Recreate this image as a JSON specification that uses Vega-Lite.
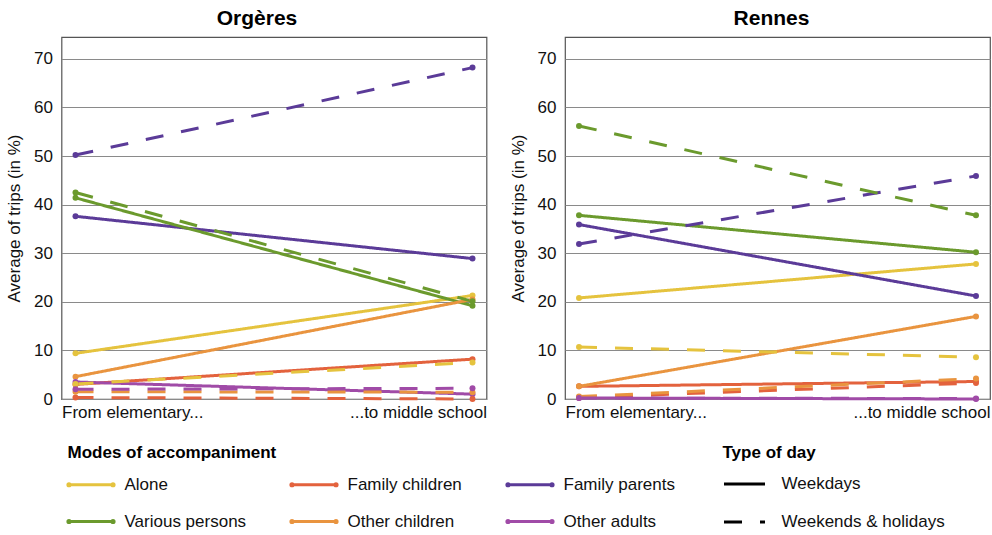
{
  "$schema": "https://vega.github.io/schema/vega-lite/v6.json",
  "padding": {"left": 4.5, "top": 7, "right": 0, "bottom": 0},
  "background": "white",
  "config": {
    "font": "Liberation Sans",
    "view": {"stroke": "#555", "strokeWidth": 1.2},
    "axis": {"labelFontSize": 17, "titleFontSize": 17, "labelColor": "#111", "titleColor": "#111", "titleFontWeight": "normal", "domain": false, "ticks": false},
    "legend": {"labelFontSize": 17, "titleFontSize": 17, "titleFontWeight": "bold", "titleColor": "#000", "labelColor": "#111", "titleLimit": 500, "labelLimit": 400}
  },
  "data": {"values": [
    {"city": "Orgères", "mode": "Alone", "day": "Weekdays", "stage": "From elementary...", "value": 9.4},
    {"city": "Orgères", "mode": "Alone", "day": "Weekdays", "stage": "...to middle school", "value": 21.3},
    {"city": "Orgères", "mode": "Family children", "day": "Weekdays", "stage": "From elementary...", "value": 3.0},
    {"city": "Orgères", "mode": "Family children", "day": "Weekdays", "stage": "...to middle school", "value": 8.2},
    {"city": "Orgères", "mode": "Family parents", "day": "Weekdays", "stage": "From elementary...", "value": 37.6},
    {"city": "Orgères", "mode": "Family parents", "day": "Weekdays", "stage": "...to middle school", "value": 28.9},
    {"city": "Orgères", "mode": "Various persons", "day": "Weekdays", "stage": "From elementary...", "value": 41.4},
    {"city": "Orgères", "mode": "Various persons", "day": "Weekdays", "stage": "...to middle school", "value": 19.2},
    {"city": "Orgères", "mode": "Other children", "day": "Weekdays", "stage": "From elementary...", "value": 4.6},
    {"city": "Orgères", "mode": "Other children", "day": "Weekdays", "stage": "...to middle school", "value": 20.5},
    {"city": "Orgères", "mode": "Other adults", "day": "Weekdays", "stage": "From elementary...", "value": 3.5},
    {"city": "Orgères", "mode": "Other adults", "day": "Weekdays", "stage": "...to middle school", "value": 1.0},
    {"city": "Orgères", "mode": "Alone", "day": "Weekends & holidays", "stage": "From elementary...", "value": 3.1},
    {"city": "Orgères", "mode": "Alone", "day": "Weekends & holidays", "stage": "...to middle school", "value": 7.5},
    {"city": "Orgères", "mode": "Family children", "day": "Weekends & holidays", "stage": "From elementary...", "value": 0.3},
    {"city": "Orgères", "mode": "Family children", "day": "Weekends & holidays", "stage": "...to middle school", "value": 0.0},
    {"city": "Orgères", "mode": "Family parents", "day": "Weekends & holidays", "stage": "From elementary...", "value": 50.2},
    {"city": "Orgères", "mode": "Family parents", "day": "Weekends & holidays", "stage": "...to middle school", "value": 68.2},
    {"city": "Orgères", "mode": "Various persons", "day": "Weekends & holidays", "stage": "From elementary...", "value": 42.5},
    {"city": "Orgères", "mode": "Various persons", "day": "Weekends & holidays", "stage": "...to middle school", "value": 20.1},
    {"city": "Orgères", "mode": "Other children", "day": "Weekends & holidays", "stage": "From elementary...", "value": 1.5},
    {"city": "Orgères", "mode": "Other children", "day": "Weekends & holidays", "stage": "...to middle school", "value": 1.4},
    {"city": "Orgères", "mode": "Other adults", "day": "Weekends & holidays", "stage": "From elementary...", "value": 2.0},
    {"city": "Orgères", "mode": "Other adults", "day": "Weekends & holidays", "stage": "...to middle school", "value": 2.2},
    {"city": "Rennes", "mode": "Alone", "day": "Weekdays", "stage": "From elementary...", "value": 20.8},
    {"city": "Rennes", "mode": "Alone", "day": "Weekdays", "stage": "...to middle school", "value": 27.8},
    {"city": "Rennes", "mode": "Family children", "day": "Weekdays", "stage": "From elementary...", "value": 2.6},
    {"city": "Rennes", "mode": "Family children", "day": "Weekdays", "stage": "...to middle school", "value": 3.6},
    {"city": "Rennes", "mode": "Family parents", "day": "Weekdays", "stage": "From elementary...", "value": 35.9},
    {"city": "Rennes", "mode": "Family parents", "day": "Weekdays", "stage": "...to middle school", "value": 21.2},
    {"city": "Rennes", "mode": "Various persons", "day": "Weekdays", "stage": "From elementary...", "value": 37.8},
    {"city": "Rennes", "mode": "Various persons", "day": "Weekdays", "stage": "...to middle school", "value": 30.2},
    {"city": "Rennes", "mode": "Other children", "day": "Weekdays", "stage": "From elementary...", "value": 2.6},
    {"city": "Rennes", "mode": "Other children", "day": "Weekdays", "stage": "...to middle school", "value": 17.0},
    {"city": "Rennes", "mode": "Other adults", "day": "Weekdays", "stage": "From elementary...", "value": 0.2},
    {"city": "Rennes", "mode": "Other adults", "day": "Weekdays", "stage": "...to middle school", "value": 0.0},
    {"city": "Rennes", "mode": "Alone", "day": "Weekends & holidays", "stage": "From elementary...", "value": 10.7},
    {"city": "Rennes", "mode": "Alone", "day": "Weekends & holidays", "stage": "...to middle school", "value": 8.6},
    {"city": "Rennes", "mode": "Family children", "day": "Weekends & holidays", "stage": "From elementary...", "value": 0.3},
    {"city": "Rennes", "mode": "Family children", "day": "Weekends & holidays", "stage": "...to middle school", "value": 3.3},
    {"city": "Rennes", "mode": "Family parents", "day": "Weekends & holidays", "stage": "From elementary...", "value": 31.9},
    {"city": "Rennes", "mode": "Family parents", "day": "Weekends & holidays", "stage": "...to middle school", "value": 45.9},
    {"city": "Rennes", "mode": "Various persons", "day": "Weekends & holidays", "stage": "From elementary...", "value": 56.2},
    {"city": "Rennes", "mode": "Various persons", "day": "Weekends & holidays", "stage": "...to middle school", "value": 37.8},
    {"city": "Rennes", "mode": "Other children", "day": "Weekends & holidays", "stage": "From elementary...", "value": 0.5},
    {"city": "Rennes", "mode": "Other children", "day": "Weekends & holidays", "stage": "...to middle school", "value": 4.2},
    {"city": "Rennes", "mode": "Other adults", "day": "Weekends & holidays", "stage": "From elementary...", "value": 0.2},
    {"city": "Rennes", "mode": "Other adults", "day": "Weekends & holidays", "stage": "...to middle school", "value": 0.1}
  ]},
  "spacing": 20.5,
  "hconcat": [
    {
      "title": {"text": "Orgères", "fontSize": 21, "fontWeight": "bold", "color": "#000", "frame": "group", "dx": -17, "offset": 8},
      "width": 425, "height": 362,
      "transform": [{"filter": "datum.city === 'Orgères'"}],
      "encoding": {
        "x": {"field": "stage", "type": "ordinal", "sort": ["From elementary...", "...to middle school"], "scale": {"type": "point", "padding": 0.0353},
          "axis": {"title": null, "labelAngle": 0, "labelPadding": 5, "labelAlign": {"expr": "datum.value === 'From elementary...' ? 'left' : 'right'"}, "labelOffset": {"expr": "datum.value === 'From elementary...' ? -14 : 14"}}},
        "y": {"field": "value", "type": "quantitative", "scale": {"domain": [0, 74.5], "nice": false}, "axis": {"title": "Average of trips (in %)", "values": [0, 10, 20, 30, 40, 50, 60, 70], "grid": true, "gridColor": "#8a8a8a", "gridWidth": 1.2, "labelPadding": 9, "titlePadding": 10}},
        "color": {"field": "mode", "type": "nominal", "sort": ["Alone", "Family children", "Family parents", "Various persons", "Other children", "Other adults"],
          "scale": {"domain": ["Alone", "Family children", "Family parents", "Various persons", "Other children", "Other adults"], "range": ["#E5C33E", "#E3623D", "#5B3B98", "#6B9A2D", "#E9943F", "#A04BA7"]},
          "legend": {"title": "Modes of accompaniment", "orient": "none", "direction": "horizontal", "legendX": 6, "legendY": 408, "columns": 3, "symbolType": "M-1,0H1M-1.05,0a0.05,0.05 0 1,0 0.1,0a0.05,0.05 0 1,0 -0.1,0M0.95,0a0.05,0.05 0 1,0 0.1,0a0.05,0.05 0 1,0 -0.1,0", "symbolSize": 1936, "symbolStrokeWidth": 3, "columnPadding": 38, "rowPadding": 5, "labelOffset": 10, "titlePadding": -1}},
        "detail": {"field": "day"}
      },
      "layer": [
        {"mark": {"type": "line", "strokeWidth": 3},
         "encoding": {"strokeDash": {"field": "day", "type": "nominal", "scale": {"domain": ["Weekdays", "Weekends & holidays"], "range": [[1, 0], [18, 18]]},
           "legend": {"title": "Type of day", "orient": "none", "direction": "vertical", "legendX": 661, "legendY": 408, "symbolType": "stroke", "symbolSize": 1681, "symbolStrokeColor": "#000", "symbolStrokeWidth": 3, "rowPadding": 8, "labelOffset": 15, "titlePadding": 0}}}},
        {"mark": {"type": "point", "filled": true, "size": 36, "opacity": 1}}
      ]
    },
    {
      "title": {"text": "Rennes", "fontSize": 21, "fontWeight": "bold", "color": "#000", "frame": "group", "dx": -6, "offset": 8},
      "width": 425, "height": 362,
      "transform": [{"filter": "datum.city === 'Rennes'"}],
      "encoding": {
        "x": {"field": "stage", "type": "ordinal", "sort": ["From elementary...", "...to middle school"], "scale": {"type": "point", "padding": 0.0353},
          "axis": {"title": null, "labelAngle": 0, "labelPadding": 5, "labelAlign": {"expr": "datum.value === 'From elementary...' ? 'left' : 'right'"}, "labelOffset": {"expr": "datum.value === 'From elementary...' ? -14 : 14"}}},
        "y": {"field": "value", "type": "quantitative", "scale": {"domain": [0, 74.5], "nice": false}, "axis": {"title": "Average of trips (in %)", "values": [0, 10, 20, 30, 40, 50, 60, 70], "grid": true, "gridColor": "#8a8a8a", "gridWidth": 1.2, "labelPadding": 9, "titlePadding": 10}},
        "color": {"field": "mode", "type": "nominal", "sort": ["Alone", "Family children", "Family parents", "Various persons", "Other children", "Other adults"],
          "scale": {"domain": ["Alone", "Family children", "Family parents", "Various persons", "Other children", "Other adults"], "range": ["#E5C33E", "#E3623D", "#5B3B98", "#6B9A2D", "#E9943F", "#A04BA7"]}},
        "detail": {"field": "day"}
      },
      "layer": [
        {"mark": {"type": "line", "strokeWidth": 3},
         "encoding": {"strokeDash": {"field": "day", "type": "nominal", "scale": {"domain": ["Weekdays", "Weekends & holidays"], "range": [[1, 0], [18, 18]]}}}},
        {"mark": {"type": "point", "filled": true, "size": 36, "opacity": 1}}
      ]
    }
  ]
}
